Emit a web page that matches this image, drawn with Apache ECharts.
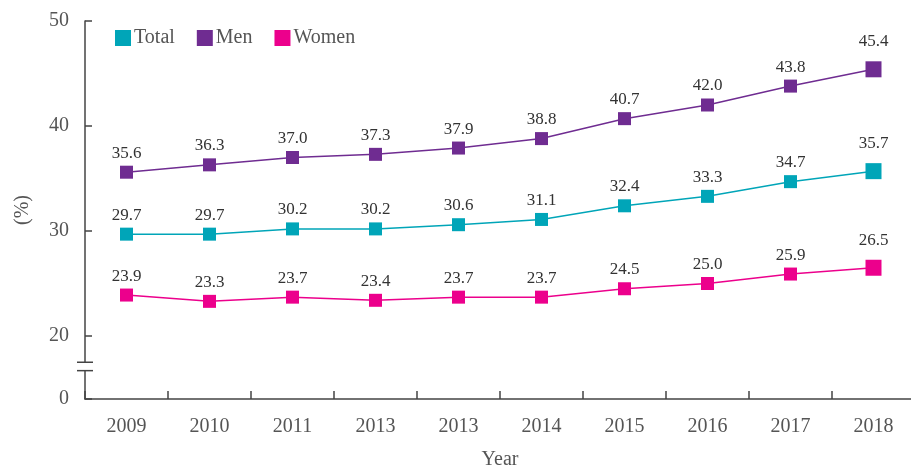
<!DOCTYPE html>
<html>
<head>
<meta charset="utf-8">
<script src="https://cdn.jsdelivr.net/npm/echarts@6/dist/echarts.min.js"></script>
<style>
  html, body { margin: 0; padding: 0; background: #fff; }
  #chart { width: 911px; height: 469px; }
</style>
</head>
<body>
<div id="chart"></div>
<script>
// 年份（原图第4个即为 2013，保留原样）
var years = ['2009', '2010', '2011', '2013', '2013', '2014', '2015', '2016', '2017', '2018'];
var totalVals = [29.7, 29.7, 30.2, 30.2, 30.6, 31.1, 32.4, 33.3, 34.7, 35.7];
var menVals = [35.6, 36.3, 37.0, 37.3, 37.9, 38.8, 40.7, 42.0, 43.8, 45.4];
var womenVals = [23.9, 23.3, 23.7, 23.4, 23.7, 23.7, 24.5, 25.0, 25.9, 26.5];
// 纵轴刻度，最低刻度显示为 0（断轴）
var yTicks = [14, 20, 30, 40, 50];

var font = '"Liberation Serif", "Times New Roman", serif';
var colors = { total: '#00a5b8', men: '#6f2c91', women: '#ec008c' };

function makeData(vals) {
    return vals.map(function (v, i) {
        var last = i === vals.length - 1;
        return { value: v, symbolSize: last ? 16 : 13, label: { distance: last ? 11 : 4 } };
    });
}

function makeSeries(name, vals, color) {
    return {
        name: name,
        type: 'line',
        data: makeData(vals),
        symbol: 'rect',
        showAllSymbol: true,
        itemStyle: { color: color },
        lineStyle: { color: color, width: 1.5 },
        label: {
            show: true,
            position: 'top',
            color: '#333',
            fontFamily: font,
            fontSize: 17,
            formatter: function (p) { return p.value.toFixed(1); }
        }
    };
}

var myChart = echarts.init(document.getElementById('chart'));
var option = {
    animation: false,
    textStyle: { fontFamily: font },
    legend: {
        left: 110,
        top: 23,
        itemWidth: 16,
        itemHeight: 16,
        itemGap: 22,
        icon: 'rect',
        textStyle: { fontFamily: font, fontSize: 20, color: '#555', padding: [0, 0, 0, -2] },
        data: ['Total', 'Men', 'Women']
    },
    grid: { left: 85, right: -4, top: 21, bottom: 70, containLabel: false, outerBoundsMode: 'none' },
    xAxis: {
        type: 'category',
        data: years,
        boundaryGap: true,
        name: 'Year',
        nameLocation: 'middle',
        nameGap: 51,
        nameTextStyle: { fontFamily: font, fontSize: 20, color: '#555' },
        axisLine: { lineStyle: { color: '#444', width: 1.5 } },
        axisTick: { show: true, inside: true, length: 8, lineStyle: { color: '#444', width: 1.5 } },
        axisLabel: { fontFamily: font, fontSize: 20, color: '#555', margin: 18 }
    },
    yAxis: {
        type: 'value',
        min: 14,
        max: 50,
        name: '(%)',
        nameLocation: 'middle',
        nameRotate: 90,
        nameGap: 52,
        nameTextStyle: { fontFamily: font, fontSize: 20, color: '#555' },
        splitLine: { show: false },
        axisLine: { show: true, lineStyle: { color: '#444', width: 1.5 } },
        axisTick: { show: true, inside: true, length: 7, customValues: yTicks, lineStyle: { color: '#444', width: 1.5 } },
        axisLabel: {
            fontFamily: font, fontSize: 20, color: '#555', margin: 16,
            customValues: yTicks,
            formatter: function (v) { return v === 14 ? '0' : String(v); }
        }
    },
    series: [
        makeSeries('Total', totalVals, colors.total),
        makeSeries('Men', menVals, colors.men),
        makeSeries('Women', womenVals, colors.women)
    ]
};
myChart.setOption(option);

// 断轴标记
var gridX = 85;
var yA = myChart.convertToPixel({ yAxisIndex: 0 }, 17.5);
var yB = myChart.convertToPixel({ yAxisIndex: 0 }, 16.7);
myChart.setOption({
    graphic: [
        { type: 'rect', shape: { x: gridX - 3, y: yA, width: 6, height: yB - yA }, style: { fill: '#fff' }, z: 100 },
        { type: 'line', shape: { x1: gridX - 8, y1: yA, x2: gridX + 8, y2: yA }, style: { stroke: '#444', lineWidth: 1.5 }, z: 101 },
        { type: 'line', shape: { x1: gridX - 8, y1: yB, x2: gridX + 8, y2: yB }, style: { stroke: '#444', lineWidth: 1.5 }, z: 101 }
    ]
});
</script>
</body>
</html>
